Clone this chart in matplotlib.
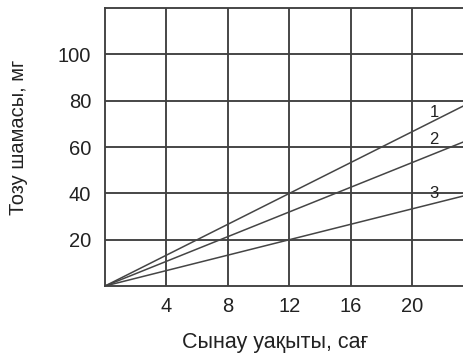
import matplotlib.pyplot as plt

plt.rcParams['font.family'] = ['Liberation Sans', 'DejaVu Sans']

# test time, h and wear for three samples (straight lines from the origin)
hours = [0, 24]
wear_1 = [0, 80]
wear_2 = [0, 64]
wear_3 = [0, 40]
curve_names = ['1', '2', '3']
label_pos = [(21.4, 74.8), (21.4, 63.2), (21.4, 40.0)]

x_ticks = [4, 8, 12, 16, 20]
y_ticks = [20, 40, 60, 80, 100]

fig = plt.figure(figsize=(4.64, 3.58), dpi=100)
# axes run a little past the right edge of the figure
ax = fig.add_axes([0.2263, 0.2011, 0.795, 0.7765])

grid_col = '#404040'
for x in x_ticks:
    ax.axvline(x, color=grid_col, lw=1.35, zorder=1)
for y in y_ticks:
    ax.axhline(y, color=grid_col, lw=1.35, zorder=1)

for w in (wear_1, wear_2, wear_3):
    ax.plot(hours, w, color='#454545', lw=1.1, zorder=2)

for name, (x, y) in zip(curve_names, label_pos):
    ax.text(x, y, name, fontsize=12, color='#222222', ha='center', va='center')

ax.set_xlim(0, 24)
ax.set_ylim(0, 120)
ax.set_xticks(x_ticks)
ax.set_yticks(y_ticks)
ax.tick_params(length=0, labelsize=14.5, colors='#222222')
ax.tick_params(axis='x', pad=8)
ax.tick_params(axis='y', pad=10)
for s in ax.spines.values():
    s.set_color(grid_col)
    s.set_linewidth(1.35)

ax.set_xlabel('Сынау уақыты, сағ', fontsize=15.5, color='#222222',
              va='center', ha='center')
ax.xaxis.set_label_coords(0.461, -0.205)
ax.set_ylabel('Тозу шамасы, мг', fontsize=14.5, color='#222222',
              va='center', ha='center')
ax.yaxis.set_label_coords(-0.234, 0.536)

fig.savefig('out.png', dpi=100)
